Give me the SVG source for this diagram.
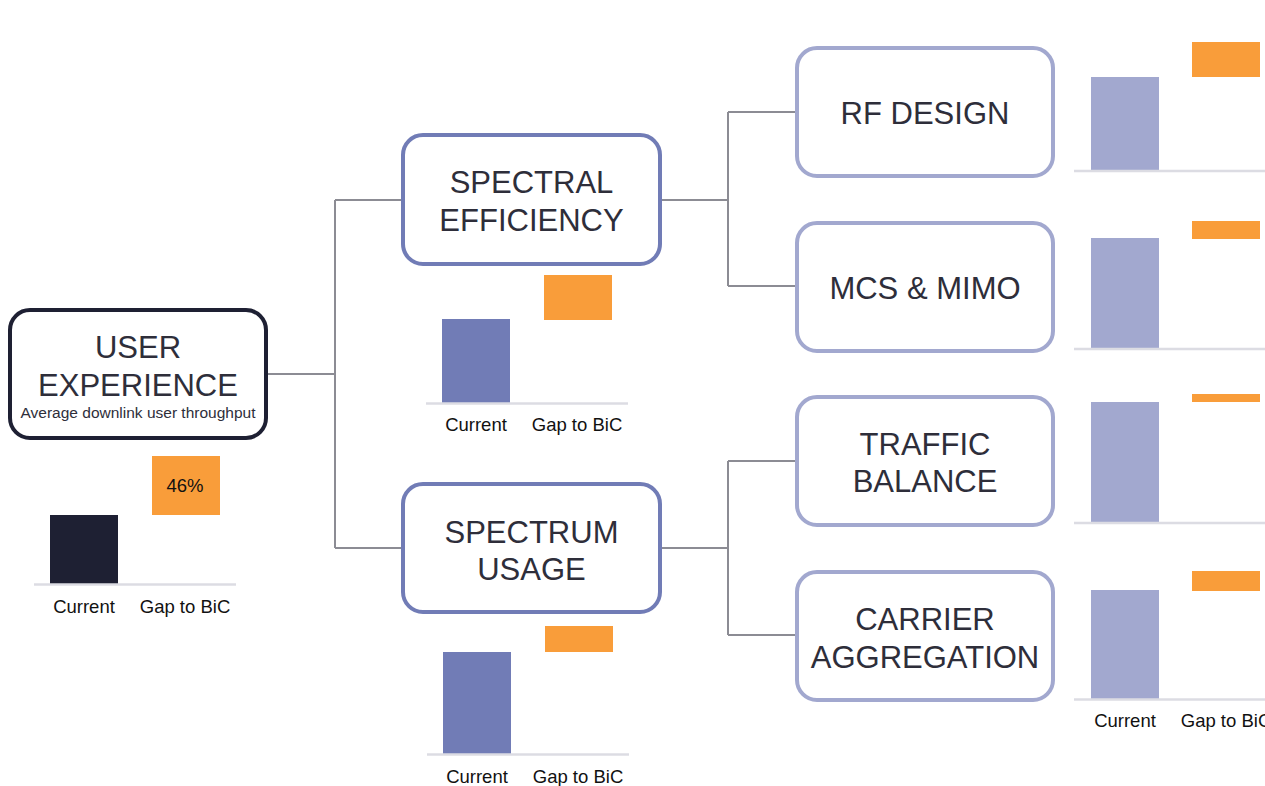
<svg xmlns="http://www.w3.org/2000/svg" width="1265" height="786" viewBox="0 0 1265 786">
<style>
.box{fill:#fff;stroke-width:4}
.b0{stroke:#1e2033}
.b1{stroke:#717cb6}
.b2{stroke:#a2a8cf}
.t{font-family:"Liberation Sans",Arial,sans-serif;font-size:31px;fill:#2e2e3a;text-anchor:middle}
.s{font-family:"Liberation Sans",Arial,sans-serif;font-size:15.5px;fill:#2e2e3a;text-anchor:middle}
.l{font-family:"Liberation Sans",Arial,sans-serif;font-size:18.5px;fill:#111;text-anchor:middle}
.ax{stroke:#dcdce3;stroke-width:2.5}
.or{fill:#f99d3a}
.c{fill:none;stroke:#8c8c94;stroke-width:2}
</style>
<rect width="1265" height="786" fill="#fff"/>
<g id="connectors">
<path class="c" d="M266 374H335M335 200V548M335 200H403M335 548H403"/>
<path class="c" d="M660 200H728M728 112V286M728 112H797M728 286H797"/>
<path class="c" d="M660 548H728M728 461V635M728 461H797M728 635H797"/>
</g>
<g id="user-experience">
<rect class="box b0" x="10" y="310" width="256" height="128" rx="20"/>
<text class="t" x="138" y="358">USER</text>
<text class="t" x="138" y="396">EXPERIENCE</text>
<text class="s" x="138" y="418">Average downlink user throughput</text>
</g>
<g id="chart-ue">
<rect x="50" y="515" width="68" height="69" fill="#1e2033"/>
<rect class="or" x="152" y="456" width="68" height="59"/>
<text x="185" y="492" font-family="Liberation Sans,Arial,sans-serif" font-size="18.5" fill="#111" text-anchor="middle">46%</text>
<line class="ax" x1="34" y1="584.5" x2="236" y2="584.5"/>
<text class="l" x="84" y="613">Current</text>
<text class="l" x="185" y="613">Gap to BiC</text>
</g>
<g id="spectral-efficiency">
<rect class="box b1" x="403" y="135" width="257" height="129" rx="20"/>
<text class="t" x="531.5" y="193">SPECTRAL</text>
<text class="t" x="531.5" y="231">EFFICIENCY</text>
</g>
<g id="chart-se">
<rect x="442" y="319" width="68" height="84" fill="#717cb6"/>
<rect class="or" x="544" y="275" width="68" height="45"/>
<line class="ax" x1="426" y1="403.5" x2="628" y2="403.5"/>
<text class="l" x="476" y="431">Current</text>
<text class="l" x="577" y="431">Gap to BiC</text>
</g>
<g id="spectrum-usage">
<rect class="box b1" x="403" y="484" width="257" height="128" rx="20"/>
<text class="t" x="531.5" y="543">SPECTRUM</text>
<text class="t" x="531.5" y="580">USAGE</text>
</g>
<g id="chart-su">
<rect x="443" y="652" width="68" height="102" fill="#717cb6"/>
<rect class="or" x="545" y="626" width="68" height="26"/>
<line class="ax" x1="427" y1="754.5" x2="629" y2="754.5"/>
<text class="l" x="477" y="783">Current</text>
<text class="l" x="578" y="783">Gap to BiC</text>
</g>
<g id="rf-design">
<rect class="box b2" x="797" y="48" width="256" height="128" rx="20"/>
<text class="t" x="925" y="124">RF DESIGN</text>
</g>
<g id="chart-rf">
<rect x="1091" y="77" width="68" height="94" fill="#a2a8cf"/>
<rect class="or" x="1192" y="42" width="68" height="35"/>
<line class="ax" x1="1074" y1="171" x2="1265" y2="171"/>
</g>
<g id="mcs-mimo">
<rect class="box b2" x="797" y="223" width="256" height="128" rx="20"/>
<text class="t" x="925" y="299">MCS &amp; MIMO</text>
</g>
<g id="chart-mcs">
<rect x="1091" y="238" width="68" height="111" fill="#a2a8cf"/>
<rect class="or" x="1192" y="221" width="68" height="18"/>
<line class="ax" x1="1074" y1="349" x2="1265" y2="349"/>
</g>
<g id="traffic-balance">
<rect class="box b2" x="797" y="397" width="256" height="128" rx="20"/>
<text class="t" x="925" y="455">TRAFFIC</text>
<text class="t" x="925" y="492">BALANCE</text>
</g>
<g id="chart-tb">
<rect x="1091" y="402" width="68" height="121" fill="#a2a8cf"/>
<rect class="or" x="1192" y="394" width="68" height="8"/>
<line class="ax" x1="1074" y1="523" x2="1265" y2="523"/>
</g>
<g id="carrier-aggregation">
<rect class="box b2" x="797" y="572" width="256" height="128" rx="20"/>
<text class="t" x="925" y="630">CARRIER</text>
<text class="t" x="925" y="668">AGGREGATION</text>
</g>
<g id="chart-ca">
<rect x="1091" y="590" width="68" height="109" fill="#a2a8cf"/>
<rect class="or" x="1192" y="571" width="68" height="20"/>
<line class="ax" x1="1074" y1="699.5" x2="1265" y2="699.5"/>
<text class="l" x="1125" y="727">Current</text>
<text class="l" x="1226" y="727">Gap to BiC</text>
</g>
</svg>
